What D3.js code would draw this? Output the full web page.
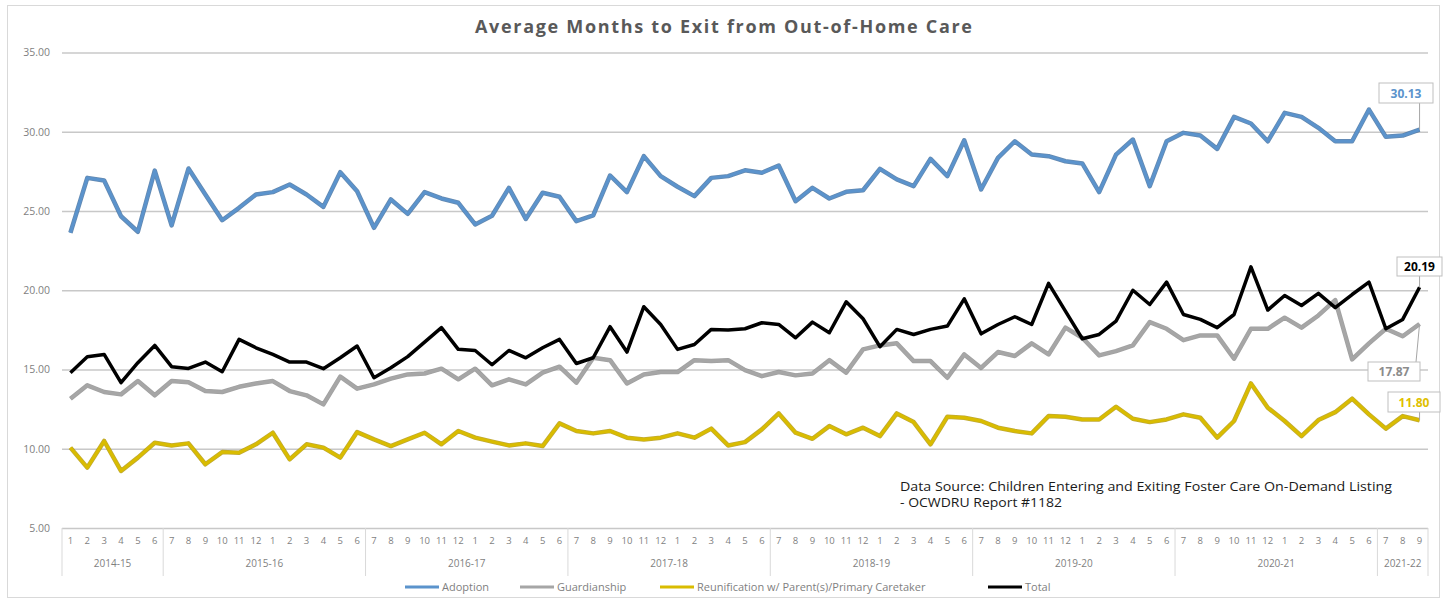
<!DOCTYPE html>
<html><head><meta charset="utf-8">
<script src="https://cdn.jsdelivr.net/npm/d3@7"></script>
<style>
body{margin:0;background:#fff;}
svg{display:block;font-family:"Open Sans",sans-serif;}
</style></head>
<body><svg id="chart" width="1450" height="601"></svg>
<script>
const fiscalYears = ["2014-15","2015-16","2016-17","2017-18","2018-19","2019-20","2020-21","2021-22"];
const yearMonths = [
  [1,2,3,4,5,6],
  [7,8,9,10,11,12,1,2,3,4,5,6],
  [7,8,9,10,11,12,1,2,3,4,5,6],
  [7,8,9,10,11,12,1,2,3,4,5,6],
  [7,8,9,10,11,12,1,2,3,4,5,6],
  [7,8,9,10,11,12,1,2,3,4,5,6],
  [7,8,9,10,11,12,1,2,3,4,5,6],
  [7,8,9]
];
const yTicks = [5,10,15,20,25,30,35];
const seriesNames = ["Adoption","Guardianship","Reunification w/ Parent(s)/Primary Caretaker","Total"];
const adoption = [23.63,27.09,26.92,24.67,23.69,27.55,24.09,27.68,26.04,24.42,25.2,26.04,26.19,26.67,26.04,25.26,27.45,26.25,23.94,25.73,24.82,26.19,25.79,25.52,24.15,24.7,
  26.46,24.5,26.15,25.9,24.36,24.72,27.24,26.19,28.46,27.2,26.53,25.94,27.09,27.2,27.57,27.41,27.87,25.62,26.46,25.79,26.21,26.31,27.66,26.99,26.57,28.29,27.2,29.46,26.36,
  28.35,29.4,28.56,28.46,28.14,28.0,26.19,28.56,29.51,26.57,29.4,29.93,29.76,28.92,30.94,30.52,29.4,31.19,30.94,30.25,29.4,29.4,31.4,29.68,29.76,30.13];
const guardianship = [13.16,14.0,13.58,13.43,14.27,13.37,14.27,14.2,13.64,13.58,13.91,14.12,14.27,13.64,13.37,12.8,14.55,13.79,14.06,14.42,14.69,14.75,15.05,14.38,15.05,14.0,
  14.38,14.06,14.8,15.18,14.17,15.74,15.59,14.12,14.69,14.84,14.84,15.59,15.53,15.59,14.96,14.58,14.84,14.63,14.75,15.59,14.8,16.27,16.52,16.65,15.53,15.53,14.48,15.95,15.1,
  16.1,15.85,16.65,15.95,17.64,17.0,15.89,16.16,16.52,17.99,17.57,16.85,17.15,17.15,15.68,17.57,17.57,18.27,17.64,18.41,19.38,15.64,16.65,17.57,17.1,17.87];
const reunification = [10.07,8.81,10.49,8.6,9.44,10.38,10.21,10.34,9.02,9.79,9.75,10.28,11.01,9.33,10.28,10.07,9.44,11.05,10.59,10.17,10.59,11.01,10.28,11.12,10.7,10.45,
  10.21,10.34,10.17,11.6,11.12,10.97,11.12,10.7,10.59,10.7,10.97,10.7,11.27,10.21,10.42,11.22,12.23,11.01,10.63,11.43,10.91,11.33,10.8,12.23,11.68,10.28,12.02,11.96,11.75,
  11.33,11.12,10.97,12.06,12.02,11.85,11.85,12.65,11.89,11.68,11.85,12.17,11.96,10.7,11.75,14.12,12.59,11.75,10.8,11.81,12.31,13.16,12.17,11.27,12.06,11.8];
const total = [14.8,15.81,15.95,14.17,15.43,16.52,15.18,15.07,15.47,14.86,16.9,16.37,15.95,15.47,15.47,15.05,15.74,16.48,14.48,15.11,15.81,16.73,17.64,16.27,16.2,15.3,
  16.2,15.74,16.37,16.9,15.38,15.74,17.7,16.1,18.96,17.84,16.27,16.58,17.53,17.49,17.57,17.95,17.84,17.0,17.99,17.32,19.27,18.2,16.44,17.53,17.21,17.53,17.74,19.46,17.25,
  17.84,18.33,17.84,20.43,18.68,16.94,17.21,18.05,20.0,19.1,20.51,18.47,18.16,17.64,18.47,21.48,18.75,19.67,19.04,19.8,18.9,19.73,20.51,17.57,18.16,20.19];
const lastLabels = ["30.13","17.87","11.80","20.19"];

const colors = ["#5b93cc","#a6a6a6","#d9bc00","#000000"];
const edge = ["#3d6c9c","#8a8a8a","#b09500","#000000"];
const seriesData = [adoption, guardianship, reunification, total];

const svg = d3.select("#chart");
svg.append("rect").attr("x",7.5).attr("y",5.5).attr("width",1432).attr("height",592)
  .attr("fill","#fff").attr("stroke","#d9d9d9");

const months = [];
yearMonths.forEach((ms,gi)=>ms.forEach(m=>months.push({m, gi})));
const idx = months.map((d,i)=>i);

const x = d3.scaleBand().domain(idx).range([62,1428]).padding(0);
const y = d3.scaleLinear().domain([5,35]).range([528,52.5]);
const cx = i => x(i) + x.bandwidth()/2;

// title
svg.append("text").attr("x",475).attr("y",33)
  .attr("font-size",18).attr("font-weight","bold").attr("fill","#595959")
  .attr("textLength",497).attr("lengthAdjust","spacing")
  .text("Average Months to Exit from Out-of-Home Care");

// gridlines & y labels
const yAxis = d3.axisLeft(y).tickValues(yTicks).tickFormat(d3.format(".2f")).tickSize(-(1428-62)).tickPadding(12);
const gy = svg.append("g").attr("transform","translate(62,0)").call(yAxis);
gy.select(".domain").remove();
gy.selectAll(".tick line").attr("stroke","#c8c8c8").attr("stroke-width",1.5);
gy.selectAll(".tick text").attr("fill","#7f7f7f").attr("font-size",10.5).attr("font-family","'Open Sans',sans-serif");

// x axis: month labels
const gx = svg.append("g").attr("transform","translate(0,528)")
  .call(d3.axisBottom(x).tickFormat(i=>months[i].m).tickSize(0).tickPadding(9));
gx.select(".domain").remove();
gx.selectAll(".tick text").attr("fill","#7f7f7f").attr("font-size",9.5).attr("font-family","'Open Sans',sans-serif");

// group separators and year labels
let start = 0;
const bounds = [0];
yearMonths.forEach(ms=>{ start += ms.length; bounds.push(start); });
const sepX = k => k < months.length ? x(k) : x(months.length-1)+x.bandwidth();
bounds.forEach(k=>{
  svg.append("line").attr("x1",sepX(k)).attr("x2",sepX(k)).attr("y1",528).attr("y2",576)
    .attr("stroke","#d9d9d9").attr("stroke-width",1);
});
fiscalYears.forEach((fy,gi)=>{
  const a = sepX(bounds[gi]), b = sepX(bounds[gi+1]);
  svg.append("text").attr("x",(a+b)/2).attr("y",567).attr("text-anchor","middle")
    .attr("font-size",10).attr("fill","#7f7f7f").text(fy);
});

// lines
const line = d3.line().x((d,i)=>cx(i)).y(d=>y(d));
[0,1,2,3].forEach(s=>{
  if (s!==3) {
    svg.append("path").datum(seriesData[s]).attr("d",line).attr("fill","none")
      .attr("stroke",edge[s]).attr("stroke-width",4.5).attr("stroke-linejoin","round").attr("opacity",0.8);
  }
  svg.append("path").datum(seriesData[s]).attr("d",line).attr("fill","none")
    .attr("stroke",colors[s]).attr("stroke-width",s===3?3.5:3).attr("stroke-linejoin","round");
});

// end labels
const lastI = months.length-1;
const labelBoxes = [
  {s:0, bx:1379, by:83, w:54, h:20, c:"#5b93cc"},
  {s:3, bx:1397, by:257, w:45, h:19, c:"#000"},
  {s:1, bx:1368, by:362, w:52, h:19, c:"#8c8c8c"},
  {s:2, bx:1388, by:392, w:52, h:20, c:"#e0c000"}
];
labelBoxes.forEach(b=>{
  const px = cx(lastI), py = y(seriesData[b.s][lastI]);
  const lx = Math.min(Math.max(px, b.bx+4), b.bx+b.w-4);
  const ly = py < b.by ? b.by : b.by+b.h;
  svg.append("line").attr("x1",px).attr("y1",py).attr("x2",lx).attr("y2",ly)
    .attr("stroke","#a6a6a6").attr("stroke-width",1);
  svg.append("rect").attr("x",b.bx).attr("y",b.by).attr("width",b.w).attr("height",b.h)
    .attr("fill","#fff").attr("stroke","#bfbfbf");
  svg.append("text").attr("x",b.bx+b.w/2).attr("y",b.by+b.h/2+4.5).attr("text-anchor","middle")
    .attr("font-size",12).attr("font-weight","bold").attr("fill",b.c)
    .text(lastLabels[b.s]);
});

// data source
svg.append("text").attr("x",900).attr("y",491).attr("font-size",12).attr("fill","#1a1a1a")
  .attr("textLength",492).attr("lengthAdjust","spacingAndGlyphs")
  .text("Data Source: Children Entering and Exiting Foster Care On-Demand Listing");
svg.append("text").attr("x",900).attr("y",507).attr("font-size",12).attr("fill","#1a1a1a")
  .attr("textLength",162).attr("lengthAdjust","spacingAndGlyphs")
  .text("- OCWDRU Report #1182");

// legend
const legendX = [405, 520, 660, 988];
seriesNames.forEach((n,s)=>{
  const lx = legendX[s];
  svg.append("line").attr("x1",lx).attr("x2",lx+34).attr("y1",587).attr("y2",587)
    .attr("stroke",colors[s]).attr("stroke-width",3);
  svg.append("text").attr("x",lx+37).attr("y",591).attr("font-size",11).attr("fill","#7f7f7f").text(n);
});
</script></body></html>
